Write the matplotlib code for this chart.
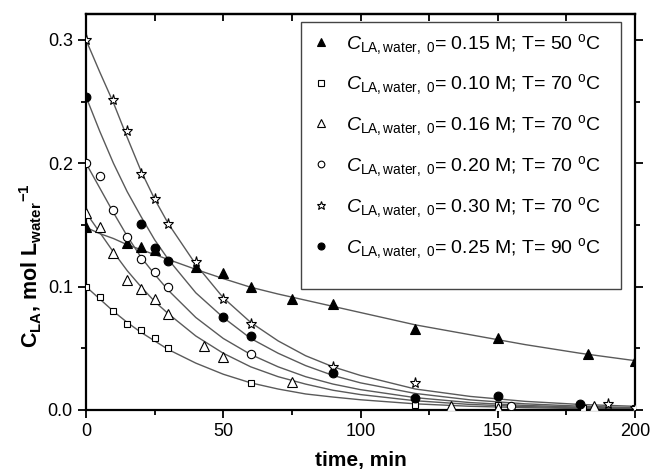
import numpy as np
from matplotlib import pyplot as plt
from matplotlib.patches import Rectangle
from matplotlib.ticker import MultipleLocator

plt.rcParams['font.family'] = ['Liberation Sans', 'DejaVu Sans']
plt.rcParams['mathtext.fontset'] = 'custom'
plt.rcParams['mathtext.rm'] = 'Liberation Sans'
plt.rcParams['mathtext.it'] = 'Liberation Sans:italic'
plt.rcParams['mathtext.bf'] = 'Liberation Sans:bold'

t_50_015 = [0, 15, 20, 25, 40, 50, 60, 75, 90, 120, 150, 183, 200]
c_50_015 = [0.148, 0.135, 0.132, 0.130, 0.116, 0.111, 0.100, 0.090, 0.086, 0.066, 0.058, 0.045, 0.040]

t_70_010 = [0, 5, 10, 15, 20, 25, 30, 60, 120, 150, 181, 200]
c_70_010 = [0.100, 0.092, 0.080, 0.070, 0.065, 0.058, 0.050, 0.022, 0.004, 0.004, 0.002, 0.002]

t_70_016 = [0, 5, 10, 15, 20, 25, 30, 43, 50, 75, 133, 150, 185]
c_70_016 = [0.160, 0.148, 0.127, 0.105, 0.098, 0.090, 0.078, 0.052, 0.043, 0.023, 0.003, 0.002, 0.003]

t_70_020 = [0, 5, 10, 15, 20, 25, 30, 60, 155]
c_70_020 = [0.200, 0.190, 0.162, 0.140, 0.122, 0.112, 0.100, 0.045, 0.003]

t_70_030 = [0, 10, 15, 20, 25, 30, 40, 50, 60, 90, 120, 190, 200]
c_70_030 = [0.300, 0.251, 0.226, 0.191, 0.171, 0.151, 0.120, 0.090, 0.070, 0.035, 0.022, 0.005, 0.002]

t_90_025 = [0, 20, 25, 30, 50, 60, 90, 120, 150, 180]
c_90_025 = [0.254, 0.151, 0.131, 0.121, 0.075, 0.060, 0.030, 0.010, 0.011, 0.005]

# ------------ model curves
t_fit = [0, 5, 10, 15, 20, 25, 30, 40, 50, 60, 70, 80, 90, 100, 120, 140, 160, 180, 200]
fit_50_015 = [0.148, 0.143, 0.139, 0.134, 0.130, 0.126, 0.122, 0.114, 0.1065, 0.0995, 0.094, 0.089,
              0.084, 0.079, 0.069, 0.061, 0.053, 0.046, 0.040]
fit_70_010 = [0.100, 0.090, 0.080, 0.071, 0.063, 0.056, 0.049, 0.038, 0.029, 0.022, 0.017, 0.013,
              0.0105, 0.0083, 0.005, 0.003, 0.0019, 0.0012, 0.0008]
fit_70_016 = [0.160, 0.144, 0.128, 0.113, 0.100, 0.088, 0.078, 0.060, 0.046, 0.035, 0.027, 0.021,
              0.016, 0.0125, 0.0075, 0.0045, 0.0028, 0.0017, 0.001]
fit_70_020 = [0.200, 0.180, 0.160, 0.141, 0.124, 0.110, 0.097, 0.075, 0.058, 0.045, 0.035, 0.027,
              0.021, 0.0165, 0.010, 0.006, 0.0037, 0.0023, 0.0014]
fit_70_030 = [0.300, 0.274, 0.249, 0.221, 0.194, 0.171, 0.151, 0.118, 0.091, 0.071, 0.056, 0.044,
              0.035, 0.028, 0.017, 0.011, 0.007, 0.0045, 0.003]
fit_90_025 = [0.254, 0.226, 0.200, 0.177, 0.157, 0.138, 0.122, 0.095, 0.075, 0.058, 0.046, 0.036,
              0.028, 0.022, 0.0134, 0.0082, 0.005, 0.0031, 0.0019]

labels = [r'$C_{\mathrm{LA,water,\ 0}}$= 0.15 M; T= 50 $^{\mathrm{o}}$C',
          r'$C_{\mathrm{LA,water,\ 0}}$= 0.10 M; T= 70 $^{\mathrm{o}}$C',
          r'$C_{\mathrm{LA,water,\ 0}}$= 0.16 M; T= 70 $^{\mathrm{o}}$C',
          r'$C_{\mathrm{LA,water,\ 0}}$= 0.20 M; T= 70 $^{\mathrm{o}}$C',
          r'$C_{\mathrm{LA,water,\ 0}}$= 0.30 M; T= 70 $^{\mathrm{o}}$C',
          r'$C_{\mathrm{LA,water,\ 0}}$= 0.25 M; T= 90 $^{\mathrm{o}}$C']

series = [(t_50_015, c_50_015, fit_50_015, '^', 'black', 7),
          (t_70_010, c_70_010, fit_70_010, 's', 'white', 5),
          (t_70_016, c_70_016, fit_70_016, '^', 'white', 7.5),
          (t_70_020, c_70_020, fit_70_020, 'o', 'white', 6),
          (t_70_030, c_70_030, fit_70_030, '*', 'white', 8),
          (t_90_025, c_90_025, fit_90_025, 'o', 'black', 6.3)]

fig = plt.figure(figsize=(6.56, 4.76), dpi=100, facecolor='white')
ax = fig.add_axes([86/656, 1-410/476, 549/656, 396/476])

for i, (t, c, fit, m, fc, ms) in enumerate(series):
    ax.plot(t_fit, fit, color='#5a5a5a', linewidth=1.0, zorder=2)
    ax.plot(t, c, linestyle='none', marker=m, markersize=ms, markerfacecolor=fc,
            markeredgecolor='black', markeredgewidth=0.8, label=labels[i], zorder=3)

ax.set_xlim(0, 200)
ax.set_ylim(0, 0.321)
ax.xaxis.set_major_locator(MultipleLocator(50))
ax.xaxis.set_minor_locator(MultipleLocator(25))
ax.yaxis.set_major_locator(MultipleLocator(0.1))
ax.yaxis.set_minor_locator(MultipleLocator(0.05))

ax.tick_params(which='both', direction='out', width=1.3, labelsize=13,
               top=False, right=True)
ax.tick_params(which='major', length=6)
ax.tick_params(which='minor', length=3.5)
for sp in ax.spines.values():
    sp.set_linewidth(1.6)

# top axis: ticks pointing inward, no labels
top = ax.secondary_xaxis('top')
top.xaxis.set_major_locator(MultipleLocator(50))
top.xaxis.set_minor_locator(MultipleLocator(25))
top.tick_params(which='both', direction='in', width=1.3, labeltop=False)
top.tick_params(which='major', length=5)
top.tick_params(which='minor', length=5)
top.spines['top'].set_linewidth(1.6)

ax.set_xlabel('time, min', fontsize=15, fontweight='bold', labelpad=8)
ax.set_ylabel(r'$\mathbf{C}_{\mathbf{LA}}$, mol L$_{\mathbf{water}}$$^{\mathbf{-1}}$',
              fontsize=15.5, fontweight='bold', va='center')
ax.yaxis.set_label_coords(-0.1, 0.365)

# legend box (drawn as its own frame, taller than the entries like in the original)
leg_x0, leg_y0, leg_x1, leg_y1 = 0.392, 0.3056, 0.9745, 0.98
ax.add_patch(Rectangle((leg_x0, leg_y0), leg_x1 - leg_x0, leg_y1 - leg_y0, transform=ax.transAxes,
                       facecolor='white', edgecolor='#444444', linewidth=1.0, zorder=4))
leg = ax.legend(loc='upper left', bbox_to_anchor=(leg_x0, leg_y1), fontsize=14,
                frameon=False, borderpad=0.5, labelspacing=0.82,
                handlelength=1.0, handletextpad=0.8, markerscale=0.8, borderaxespad=0)
leg.set_zorder(5)

plt.savefig('out.png', dpi=100)
